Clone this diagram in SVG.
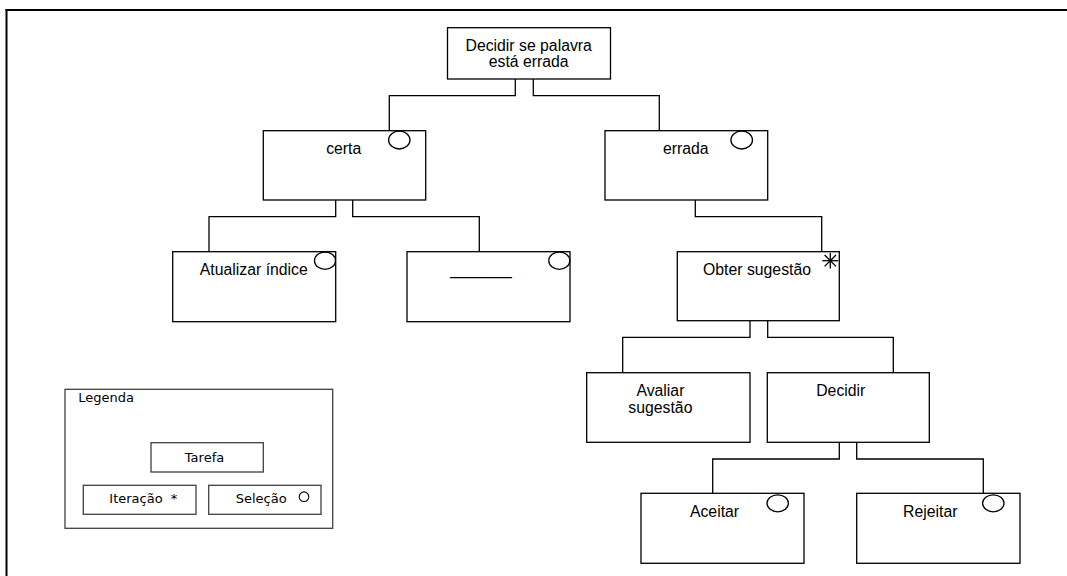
<svg xmlns="http://www.w3.org/2000/svg" width="1067" height="576" viewBox="0 0 1067 576">
<style>
.box{fill:#fff;stroke:#000;stroke-width:1.3}
.t{font-family:"Liberation Sans",Arial,sans-serif;font-size:15.8px;fill:#000;text-anchor:middle}
.sel{fill:none;stroke:#000;stroke-width:1.3}
.conn path{fill:none;stroke:#000;stroke-width:1.3}
.lg{fill:#fff;stroke:#404040;stroke-width:1.3}
.lt{font-family:"DejaVu Sans",Verdana,sans-serif;font-size:13px;fill:#000}
</style>
<rect width="1067" height="576" fill="#fff"/>
<g id="frame">
<line x1="5.5" y1="10" x2="1067" y2="10" stroke="#000" stroke-width="2"/>
<line x1="6.5" y1="9" x2="6.5" y2="576" stroke="#000" stroke-width="2"/>
</g>
<g class="conn" id="connectors">
<path d="M515.3,79 V95.7 H389.3 V130.7"/>
<path d="M533.3,79 V95.7 H659.3 V130.7"/>
<path d="M335.7,200 V216.7 H209 V251.7"/>
<path d="M352.7,200 V216.7 H479.3 V251.7"/>
<path d="M695.3,200 V216.7 H821.7 V251.7"/>
<path d="M750,320.7 V337.3 H622.7 V372.7"/>
<path d="M767.7,320.7 V337.3 H893.3 V372.7"/>
<path d="M839.3,442.3 V459 H712.7 V493.3"/>
<path d="M856.7,442.3 V459 H983.3 V493.3"/>
</g>
<g id="root">
<rect class="box" x="447.5" y="27.7" width="163" height="51.3"/>
<text class="t" x="528.7" y="50.5">Decidir se palavra</text>
<text class="t" x="528.7" y="67.2">está errada</text>
</g>
<g id="certa">
<rect class="box" x="263.3" y="130.7" width="162.4" height="69.3"/>
<text class="t" x="343.7" y="154">certa</text>
<ellipse class="sel" cx="399.3" cy="140" rx="10.7" ry="9"/>
</g>
<g id="errada">
<rect class="box" x="605" y="130.7" width="162.7" height="69.3"/>
<text class="t" x="685.8" y="154">errada</text>
<ellipse class="sel" cx="741.7" cy="140" rx="10.8" ry="9"/>
</g>
<g id="atualizar">
<rect class="box" x="172.7" y="251.7" width="163" height="70"/>
<text class="t" x="253.8" y="274.8">Atualizar índice</text>
<ellipse class="sel" cx="325" cy="260.7" rx="10.5" ry="8.7"/>
</g>
<g id="vazio">
<rect class="box" x="407" y="251.7" width="163" height="70"/>
<text class="t" x="481" y="274.5">_______</text>
<ellipse class="sel" cx="559.3" cy="260.7" rx="10.5" ry="8.7"/>
</g>
<g id="obter">
<rect class="box" x="677.3" y="251.7" width="162" height="69"/>
<text class="t" x="757" y="275">Obter sugestão</text>
<g stroke="#000" stroke-width="1.3">
<line x1="830.3" y1="253" x2="830.3" y2="268.5"/>
<line x1="822.3" y1="260.7" x2="838.3" y2="260.7"/>
<line x1="824.6" y1="255" x2="836" y2="266.4"/>
<line x1="836" y1="255" x2="824.6" y2="266.4"/>
</g>
</g>
<g id="avaliar">
<rect class="box" x="586.7" y="372.7" width="163.3" height="69.6"/>
<text class="t" x="660.4" y="396.3">Avaliar</text>
<text class="t" x="660.4" y="413.2">sugestão</text>
</g>
<g id="decidir">
<rect class="box" x="767.3" y="372.7" width="162" height="69.6"/>
<text class="t" x="840.8" y="396.3">Decidir</text>
</g>
<g id="aceitar">
<rect class="box" x="641" y="493.3" width="163" height="70"/>
<text class="t" x="714.5" y="517">Aceitar</text>
<ellipse class="sel" cx="777.7" cy="503.3" rx="10.7" ry="8.5"/>
</g>
<g id="rejeitar">
<rect class="box" x="856.7" y="493.3" width="163.3" height="70"/>
<text class="t" x="930.3" y="516.5">Rejeitar</text>
<ellipse class="sel" cx="993.3" cy="503.3" rx="10.7" ry="8.5"/>
</g>
<g id="legenda">
<rect class="lg" x="65" y="389.3" width="267.7" height="139"/>
<text class="lt" x="78.3" y="401.7">Legenda</text>
<g id="leg-tarefa">
<rect class="lg" x="151" y="442.7" width="112.3" height="29.3"/>
<text class="lt" x="204.5" y="461.5" text-anchor="middle">Tarefa</text>
</g>
<g id="leg-iteracao">
<rect class="lg" x="83.3" y="485.3" width="112.7" height="29"/>
<text class="lt" x="109.3" y="503" xml:space="preserve">Iteração  *</text>
</g>
<g id="leg-selecao">
<rect class="lg" x="208.7" y="485.3" width="112.3" height="29"/>
<text class="lt" x="235.7" y="503">Seleção</text>
<circle cx="304" cy="496.7" r="4.8" fill="none" stroke="#000" stroke-width="1.1"/>
</g>
</g>
</svg>
